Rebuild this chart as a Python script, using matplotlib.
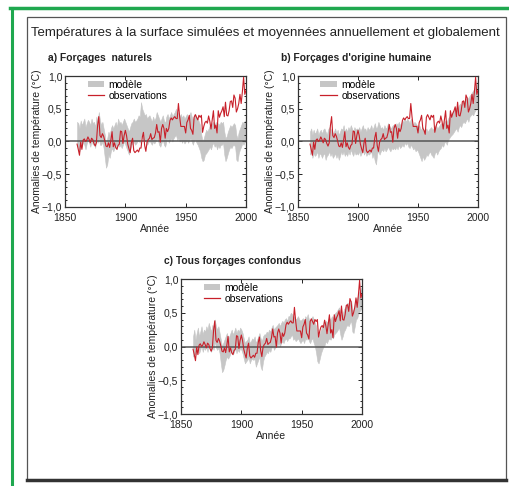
import matplotlib
matplotlib.use("Agg")
import matplotlib.pyplot as plt
import numpy as np
from matplotlib.lines import Line2D
from matplotlib.patches import Patch, Rectangle

plt.rcParams["font.family"] = ["Liberation Sans", "DejaVu Sans"]

years = list(range(1860, 2001))

# observations (anomalies relative to 1880-1920, deg C)
obs = [
    -0.04, -0.12, -0.21, -0.01, -0.12, 0.02, 0.04, 0.00, 0.02, 0.07,
    0.03, -0.02, 0.05, 0.03, -0.03, -0.07, -0.02, 0.24, 0.38, 0.09,
    0.06, 0.12, 0.08, 0.01, -0.07, -0.08, -0.02, -0.09, 0.02, 0.15,
    -0.08, -0.02, -0.09, -0.12, -0.06, -0.04, 0.16, 0.15, -0.03, 0.09,
    0.17, 0.09, -0.04, -0.11, -0.17, -0.02, 0.05, -0.14, -0.17, -0.15,
    -0.13, -0.16, -0.10, -0.10, 0.06, 0.14, -0.06, -0.15, -0.01, 0.03,
    0.05, 0.12, 0.03, 0.05, 0.06, 0.13, 0.26, 0.14, 0.15, -0.01,
    0.20, 0.26, 0.20, 0.05, 0.20, 0.15, 0.20, 0.32, 0.36, 0.33,
    0.36, 0.38, 0.35, 0.35, 0.58, 0.38, 0.23, 0.23, 0.23, 0.23,
    0.13, 0.29, 0.33, 0.40, 0.20, 0.17, 0.11, 0.37, 0.41, 0.37,
    0.33, 0.40, 0.37, 0.40, 0.14, 0.23, 0.29, 0.31, 0.28, 0.39,
    0.31, 0.19, 0.33, 0.47, 0.20, 0.25, 0.13, 0.47, 0.37, 0.43,
    0.47, 0.53, 0.38, 0.60, 0.40, 0.39, 0.47, 0.61, 0.62, 0.52,
    0.71, 0.66, 0.45, 0.50, 0.58, 0.72, 0.58, 0.76, 0.98, 0.72,
    0.78,
]

# a) forcages naturels : model range
nat_hi = [
    0.30, 0.28, 0.20, 0.32, 0.25, 0.30, 0.35, 0.22, 0.28, 0.33,
    0.30, 0.25, 0.35, 0.28, 0.30, 0.22, 0.38, 0.30, 0.45, 0.32,
    0.25, 0.30, 0.20, 0.10, -0.05, 0.05, 0.15, 0.10, 0.20, 0.25,
    0.20, 0.25, 0.30, 0.22, 0.35, 0.28, 0.30, 0.25, 0.30, 0.35,
    0.30, 0.25, 0.20, 0.15, 0.22, 0.28, 0.30, 0.35, 0.30, 0.32,
    0.35, 0.40, 0.38, 0.60, 0.50, 0.45, 0.40, 0.42, 0.35, 0.38,
    0.40, 0.35, 0.30, 0.38, 0.32, 0.36, 0.45, 0.40, 0.35, 0.30,
    0.35, 0.40, 0.32, 0.28, 0.38, 0.42, 0.35, 0.40, 0.45, 0.38,
    0.42, 0.45, 0.50, 0.40, 0.45, 0.38, 0.42, 0.36, 0.40, 0.35,
    0.38, 0.42, 0.35, 0.40, 0.45, 0.38, 0.33, 0.40, 0.42, 0.36,
    0.35, 0.30, 0.25, 0.10, 0.00, 0.05, 0.12, 0.18, 0.15, 0.20,
    0.25, 0.22, 0.28, 0.30, 0.25, 0.30, 0.22, 0.28, 0.25, 0.30,
    0.28, 0.30, 0.15, 0.05, 0.08, 0.15, 0.20, 0.25, 0.22, 0.25,
    0.28, 0.25, 0.10, 0.05, 0.15, 0.20, 0.25, 0.30, 0.28, 0.32,
    0.30,
]
nat_lo = [
    -0.05, -0.10, -0.15, -0.02, -0.08, 0.00, -0.05, -0.12, -0.03, 0.02,
    -0.02, -0.08, 0.02, -0.05, 0.00, -0.10, 0.03, -0.02, 0.05, -0.05,
    -0.05, 0.00, -0.10, -0.25, -0.40, -0.35, -0.20, -0.25, -0.15, -0.10,
    -0.15, -0.10, -0.05, -0.12, -0.02, -0.08, -0.05, -0.10, -0.05, 0.00,
    -0.05, -0.10, -0.15, -0.20, -0.12, -0.05, -0.02, 0.00, -0.05, -0.03,
    0.00, 0.02, -0.02, 0.10, 0.05, 0.02, 0.00, 0.03, -0.05, -0.02,
    0.02, -0.02, -0.05, 0.00, -0.03, 0.00, 0.05, 0.02, -0.05, -0.08,
    -0.02, 0.03, -0.05, -0.08, 0.00, 0.05, -0.02, 0.02, 0.05, 0.00,
    0.05, 0.08, 0.10, 0.02, 0.05, 0.00, 0.03, -0.02, 0.02, -0.03,
    0.00, 0.03, -0.02, 0.02, 0.05, 0.00, -0.05, 0.02, 0.03, -0.02,
    -0.05, -0.10, -0.15, -0.25, -0.30, -0.28, -0.20, -0.18, -0.15, -0.12,
    -0.08, -0.12, -0.05, -0.02, -0.08, -0.05, -0.12, -0.06, -0.10, -0.05,
    -0.05, -0.02, -0.20, -0.30, -0.25, -0.18, -0.12, -0.08, -0.10, -0.06,
    -0.05, -0.08, -0.28, -0.30, -0.18, -0.12, -0.08, -0.02, -0.05, 0.00,
    -0.02,
]

# b) forcages d'origine humaine : model range
ant_hi = [
    0.15, 0.20, 0.10, 0.18, 0.12, 0.15, 0.20, 0.10, 0.15, 0.18,
    0.12, 0.18, 0.20, 0.15, 0.10, 0.18, 0.22, 0.15, 0.20, 0.12,
    0.15, 0.20, 0.12, 0.18, 0.10, 0.15, 0.20, 0.18, 0.25, 0.15,
    0.20, 0.15, 0.22, 0.18, 0.25, 0.20, 0.15, 0.22, 0.18, 0.20,
    0.18, 0.22, 0.15, 0.20, 0.25, 0.18, 0.20, 0.15, 0.22, 0.18,
    0.20, 0.25, 0.18, 0.22, 0.28, 0.20, 0.22, 0.30, 0.25, 0.20,
    0.22, 0.18, 0.25, 0.20, 0.22, 0.28, 0.25, 0.20, 0.22, 0.25,
    0.25, 0.22, 0.28, 0.25, 0.30, 0.25, 0.28, 0.32, 0.30, 0.35,
    0.30, 0.35, 0.32, 0.28, 0.35, 0.30, 0.25, 0.30, 0.28, 0.25,
    0.22, 0.25, 0.20, 0.18, 0.22, 0.15, 0.18, 0.20, 0.15, 0.18,
    0.20, 0.22, 0.18, 0.20, 0.22, 0.25, 0.20, 0.22, 0.25, 0.28,
    0.25, 0.28, 0.30, 0.32, 0.30, 0.35, 0.38, 0.40, 0.42, 0.45,
    0.48, 0.50, 0.52, 0.50, 0.55, 0.58, 0.55, 0.60, 0.62, 0.60,
    0.65, 0.68, 0.65, 0.70, 0.72, 0.75, 0.78, 0.80, 0.85, 0.88,
    0.95,
]
ant_lo = [
    -0.20, -0.15, -0.25, -0.18, -0.22, -0.20, -0.15, -0.25, -0.18, -0.20,
    -0.25, -0.20, -0.18, -0.28, -0.22, -0.20, -0.15, -0.22, -0.18, -0.25,
    -0.22, -0.18, -0.25, -0.20, -0.28, -0.22, -0.15, -0.20, -0.15, -0.22,
    -0.18, -0.22, -0.15, -0.20, -0.12, -0.18, -0.22, -0.15, -0.20, -0.18,
    -0.20, -0.15, -0.22, -0.18, -0.12, -0.20, -0.15, -0.22, -0.18, -0.20,
    -0.18, -0.15, -0.25, -0.20, -0.30, -0.35, -0.18, -0.15, -0.20, -0.15,
    -0.12, -0.15, -0.10, -0.15, -0.12, -0.08, -0.12, -0.15, -0.10, -0.12,
    -0.10, -0.12, -0.08, -0.12, -0.05, -0.10, -0.08, -0.05, -0.08, -0.02,
    -0.05, -0.02, -0.08, -0.10, -0.05, -0.08, -0.12, -0.10, -0.15, -0.12,
    -0.15, -0.20, -0.25, -0.30, -0.22, -0.28, -0.25, -0.20, -0.22, -0.18,
    -0.15, -0.20, -0.22, -0.25, -0.18, -0.15, -0.20, -0.15, -0.12, -0.10,
    -0.05, -0.08, -0.02, 0.00, -0.05, 0.02, 0.05, 0.08, 0.10, 0.12,
    0.15, 0.18, 0.20, 0.15, 0.22, 0.25, 0.22, 0.28, 0.30, 0.28,
    0.32, 0.35, 0.30, 0.38, 0.40, 0.42, 0.40, 0.45, 0.48, 0.50,
    0.52,
]

# c) tous forcages confondus : model range
all_hi = [
    0.15, 0.25, 0.10, 0.20, 0.28, 0.15, 0.22, 0.30, 0.18, 0.25,
    0.22, 0.30, 0.25, 0.35, 0.28, 0.22, 0.32, 0.28, 0.40, 0.30,
    0.25, 0.30, 0.20, 0.10, 0.00, 0.05, 0.10, 0.15, 0.20, 0.12,
    0.15, 0.20, 0.25, 0.18, 0.22, 0.28, 0.20, 0.25, 0.22, 0.28,
    0.25, 0.20, 0.12, 0.05, 0.08, 0.10, 0.15, 0.05, 0.08, 0.12,
    0.10, 0.15, 0.05, 0.10, 0.15, 0.20, 0.12, 0.08, 0.15, 0.18,
    0.18, 0.22, 0.20, 0.25, 0.22, 0.28, 0.32, 0.25, 0.28, 0.30,
    0.32, 0.35, 0.30, 0.35, 0.38, 0.35, 0.40, 0.42, 0.38, 0.45,
    0.45, 0.50, 0.48, 0.42, 0.45, 0.40, 0.42, 0.45, 0.40, 0.38,
    0.40, 0.42, 0.38, 0.45, 0.42, 0.48, 0.40, 0.38, 0.42, 0.45,
    0.40, 0.35, 0.30, 0.20, 0.15, 0.20, 0.25, 0.30, 0.32, 0.35,
    0.38, 0.35, 0.40, 0.42, 0.40, 0.45, 0.42, 0.48, 0.50, 0.52,
    0.55, 0.58, 0.50, 0.42, 0.48, 0.55, 0.58, 0.62, 0.65, 0.62,
    0.65, 0.68, 0.55, 0.52, 0.62, 0.70, 0.72, 0.78, 0.82, 0.85,
    0.90,
]
all_lo = [
    -0.15, -0.10, -0.12, -0.05, 0.00, -0.10, -0.05, 0.02, -0.08, -0.02,
    -0.05, 0.00, -0.08, 0.05, -0.02, -0.08, 0.00, -0.05, 0.08, -0.02,
    -0.05, -0.02, -0.10, -0.25, -0.38, -0.35, -0.28, -0.20, -0.15, -0.18,
    -0.15, -0.10, -0.05, -0.12, -0.08, -0.02, -0.10, -0.05, -0.08, -0.02,
    -0.05, -0.10, -0.18, -0.25, -0.22, -0.20, -0.15, -0.25, -0.20, -0.18,
    -0.20, -0.18, -0.30, -0.25, -0.20, -0.15, -0.30, -0.35, -0.22, -0.15,
    -0.12, -0.08, -0.10, -0.05, -0.08, -0.02, 0.02, -0.05, -0.02, 0.00,
    0.02, 0.05, 0.00, 0.05, 0.08, 0.05, 0.10, 0.12, 0.08, 0.12,
    0.12, 0.15, 0.18, 0.10, 0.12, 0.08, 0.10, 0.12, 0.08, 0.05,
    0.08, 0.10, 0.05, 0.12, 0.10, 0.15, 0.08, 0.05, 0.10, 0.12,
    0.05, 0.00, -0.10, -0.22, -0.25, -0.18, -0.10, -0.05, 0.00, 0.02,
    0.08, 0.05, 0.10, 0.12, 0.10, 0.15, 0.12, 0.18, 0.20, 0.22,
    0.25, 0.28, 0.18, 0.10, 0.15, 0.22, 0.25, 0.30, 0.32, 0.30,
    0.35, 0.38, 0.22, 0.20, 0.30, 0.40, 0.42, 0.48, 0.52, 0.55,
    0.58,
]

panel_titles = ["a) Forçages  naturels", "b) Forçages d'origine humaine",
                "c) Tous forçages confondus"]
ytick_vals = [-1.0, -0.5, 0.0, 0.5, 1.0]
ytick_labels = ["\u22121,0", "\u22120,5", "0,0", "0,5", "1,0"]
xtick_vals = [1850, 1900, 1950, 2000]

GREY = "#c6c6c6"
RED = "#c8202a"
GREEN = "#1fa84f"
W, H = 510, 486


def draw_panel(fig, rect, lo, hi, title):
    ax = fig.add_axes(rect)
    ax.fill_between(years, lo, hi, facecolor=GREY, edgecolor=GREY, linewidth=0.4)
    ax.axhline(0, color="#555555", linewidth=1.1, zorder=2)
    ax.plot(years, obs, color=RED, linewidth=0.8, zorder=3)
    ax.set_xlim(1850, 2000)
    ax.set_ylim(-1.0, 1.0)
    ax.set_xticks(xtick_vals)
    ax.set_yticks(ytick_vals)
    ax.set_yticklabels(ytick_labels)
    ax.set_yticks(np.arange(-1.0, 1.01, 0.1), minor=True)
    ax.tick_params(direction="in", top=True, right=True, length=3, width=0.7,
                   labelsize=7.5, colors="#222222")
    ax.tick_params(axis="y", pad=2)
    ax.tick_params(axis="x", pad=4)
    ax.tick_params(which="minor", direction="in", right=True, length=1.5, width=0.6)
    for s in ax.spines.values():
        s.set_color("#333333")
        s.set_linewidth(0.9)
    ax.set_xlabel("Année", fontsize=7.5, labelpad=1, color="#222222")
    ax.set_ylabel("Anomalies de température (°C)", fontsize=7.5, labelpad=0,
                  color="#222222")
    handles = [Patch(facecolor=GREY, edgecolor="none"),
               Line2D([], [], color=RED, linewidth=0.9)]
    ax.legend(handles, ["modèle", "observations"], loc="upper left",
              bbox_to_anchor=(0.09, 1.02), frameon=False, fontsize=7.5,
              handlelength=1.6, handleheight=0.6, handletextpad=0.4,
              labelspacing=0.1, borderaxespad=0.2)
    x0 = rect[0] * W
    fig.text((x0 - 17) / W, rect[1] + rect[3] + 18 / H, title, fontsize=7.4,
             fontweight="bold", color="#222222", va="center")
    return ax


fig = plt.figure(figsize=(W / 100, H / 100), dpi=100)

# green frame + inner box
fig.add_artist(Line2D([10 / W, 1], [1 - 8 / H, 1 - 8 / H], color=GREEN,
                      linewidth=2.5, transform=fig.transFigure))
fig.add_artist(Line2D([12 / W, 12 / W], [0, 1 - 8 / H], color=GREEN,
                      linewidth=2.2, transform=fig.transFigure))
fig.add_artist(Rectangle((27 / W, 1 - 480 / H), (506 - 27) / W, (480 - 17) / H,
                         fill=False, edgecolor="#555555", linewidth=0.9,
                         transform=fig.transFigure))
fig.add_artist(Line2D([27 / W, 506 / W], [1 - 480 / H, 1 - 480 / H],
                      color="#333333", linewidth=2.5, transform=fig.transFigure))

fig.text(31 / W, 1 - 33 / H,
         "Températures à la surface simulées et moyennées annuellement et globalement",
         fontsize=9.5, color="#222222", va="center")

draw_panel(fig, [65 / W, 1 - 207 / H, 181 / W, 131 / H], nat_lo, nat_hi, panel_titles[0])
draw_panel(fig, [298 / W, 1 - 207 / H, 180 / W, 131 / H], ant_lo, ant_hi, panel_titles[1])
draw_panel(fig, [181 / W, 1 - 414 / H, 181 / W, 135 / H], all_lo, all_hi, panel_titles[2])

fig.savefig("out.png", dpi=100)
